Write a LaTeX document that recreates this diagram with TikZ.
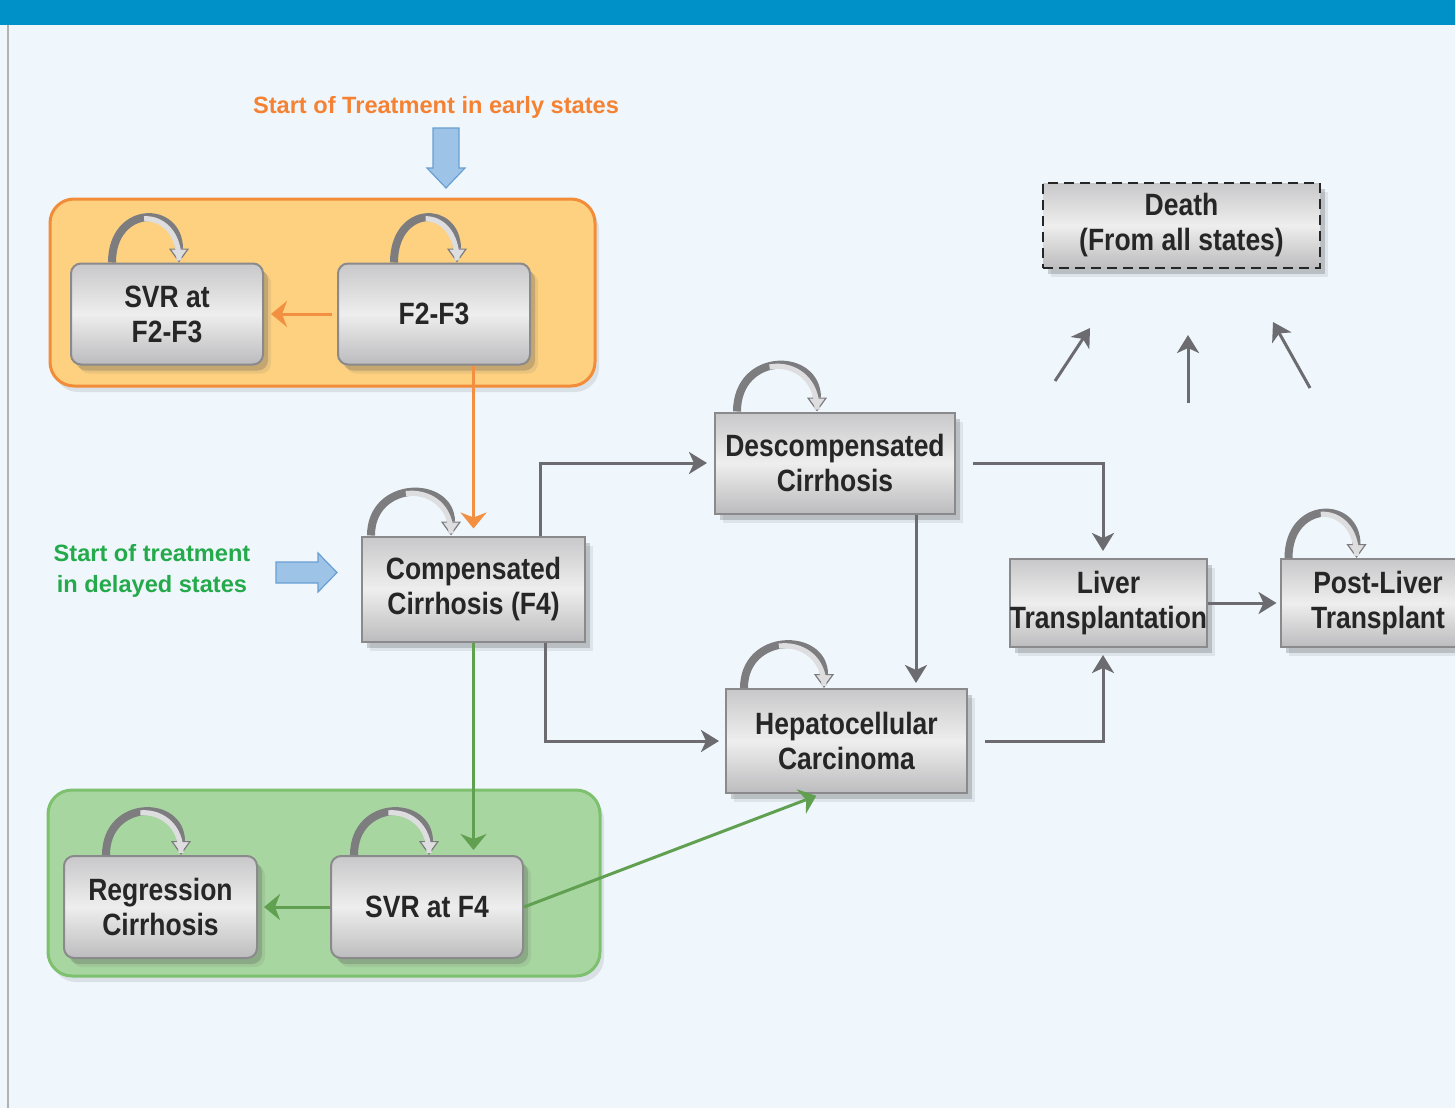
\documentclass[tikz,border=0pt]{standalone}
\usepackage{fontspec}
\newfontfamily\boxfont[FakeStretch=0.86]{Liberation Sans}
\newfontfamily\notefont{Liberation Sans}
\usetikzlibrary{arrows.meta,calc,shadows}
\definecolor{bgblue}{RGB}{239,247,253}
\definecolor{bandblue}{RGB}{0,145,200}
\definecolor{boxtop}{RGB}{200,200,202}
\definecolor{boxmid}{RGB}{238,238,238}
\definecolor{boxbot}{RGB}{188,188,190}
\definecolor{boxedge}{RGB}{138,138,140}
\definecolor{linegray}{RGB}{108,108,112}
\definecolor{loopgray}{RGB}{125,125,128}
\definecolor{loopfill}{RGB}{222,222,224}
\definecolor{earlyfill}{RGB}{253,209,128}
\definecolor{earlyedge}{RGB}{242,140,56}
\definecolor{earlyline}{RGB}{243,143,65}
\definecolor{latefill}{RGB}{168,214,160}
\definecolor{lateedge}{RGB}{125,192,110}
\definecolor{lateline}{RGB}{96,160,80}
\definecolor{noteorange}{RGB}{245,130,50}
\definecolor{notegreen}{RGB}{37,170,75}
\definecolor{arrowblue}{RGB}{157,195,230}
\definecolor{arrowedge}{RGB}{106,159,211}
\tikzset{
  state/.style={draw=boxedge, line width=1pt, top color=boxtop, bottom color=boxbot,
    middle color=boxmid, align=center, inner sep=0pt, text=black!85,
    font=\boxfont\bfseries\fontsize{15.4}{17.5}\selectfont,
    drop shadow={shadow xshift=2.5pt, shadow yshift=-3pt, fill=black!70, opacity=0.25},
    drop shadow={shadow xshift=4pt, shadow yshift=-4.5pt, fill=black!60, opacity=0.12}},
  rstate/.style={state, rounded corners=5pt},
  group/.style={line width=1.5pt, rounded corners=12pt, inner sep=0pt,
    drop shadow={shadow xshift=2pt, shadow yshift=-3pt, fill=black!60, opacity=0.15}},
  note/.style={font=\notefont\bfseries\fontsize{11.8}{15.5}\selectfont, align=center, inner sep=0pt},
  stay/.style={draw=loopgray, line width=4pt,
    -{Triangle[length=7pt, width=10pt, fill=loopfill, line width=0.6pt]},
    postaction={draw=loopfill, line width=2.6pt, -, shorten >=1pt,
      dash pattern=on 0pt off 30pt on 200pt off 0pt}},
  flow/.style={draw=linegray, line width=1.5pt, -{Stealth[length=9pt, width=11pt, inset=2.5pt]}},
  early/.style={draw=earlyline, line width=1.5pt, -{Stealth[length=8pt, width=13pt, inset=2.5pt]}},
  late/.style={draw=lateline, line width=1.5pt, -{Stealth[length=8pt, width=13pt, inset=2.5pt]}},
  blockarrow/.style={fill=arrowblue, draw=arrowedge, line width=0.6pt}
}

\begin{document}
\begin{tikzpicture}[x=0.5pt, y=-0.5pt]
  \useasboundingbox (0,0) rectangle (1455,1108);
  \fill[bgblue] (0,0) rectangle (1455,1108);
  \fill[bandblue] (0,0) rectangle (1455,25);
  \draw[gray!60, line width=0.6pt] (8,25) -- (8,1108);

  \node[group, fill=earlyfill, draw=earlyedge, minimum width=272.5pt, minimum height=93.5pt] (earlygrp) at (322.5,292.5) {};
  \node[group, fill=latefill, draw=lateedge, minimum width=276pt, minimum height=93pt] (lategrp) at (324,883) {};

  \node[note, text=noteorange] (earlytxt) at (436,107) {Start of Treatment in early states};
  \node[note, text=notegreen] (latetxt) at (152,571) {Start of treatment\\in delayed states};
  \draw[blockarrow] (433,128) -- (459,128) -- (459,168) -- (465,168) -- (446,188) -- (427,168) -- (433,168) -- cycle;
  \draw[blockarrow] (276,562) -- (318,562) -- (318,553) -- (337,572.5) -- (318,592) -- (318,583) -- (276,583) -- cycle;

  \node[rstate, minimum width=96pt, minimum height=50.5pt] (svr23) at (167,314) {SVR at\\F2-F3};
  \node[rstate, minimum width=96pt, minimum height=50.5pt] (f23) at (434,314) {F2-F3};
  \node[state, minimum width=111.5pt, minimum height=52.5pt] (comp) at (473.5,589) {Compensated\\Cirrhosis (F4)};
  \node[state, minimum width=120pt, minimum height=50.5pt] (desc) at (835,463) {Descompensated\\Cirrhosis};
  \node[state, minimum width=120.5pt, minimum height=52pt] (hcc) at (846.5,741) {Hepatocellular\\Carcinoma};
  \node[state, minimum width=97.5pt, minimum height=44pt] (liver) at (1108.5,603) {Liver\\Transplantation};
  \node[state, minimum width=97.5pt, minimum height=44pt] (post) at (1378,603) {Post-Liver\\Transplant};
  \node[state, dash pattern=on 5pt off 3pt, draw=black!85, line width=1.3pt, minimum width=138.5pt, minimum height=42.5pt] (death) at (1181.5,225.5) {Death\\(From all states)};
  \node[rstate, minimum width=96.5pt, minimum height=51pt] (regr) at (160.5,907) {Regression\\Cirrhosis};
  \node[rstate, minimum width=96pt, minimum height=51pt] (svr4) at (427,907) {SVR at F4};

  \draw[stay] ($(svr23.north west)+(42,0)$) .. controls +(0,-58) and +(0,-58) .. ($(svr23.north west)+(109,0)$);
  \draw[stay] ($(f23.north west)+(57,0)$) .. controls +(0,-58) and +(0,-58) .. ($(f23.north west)+(120,0)$);
  \draw[stay] ($(comp.north west)+(10,0)$) .. controls +(0,-56) and +(0,-56) .. ($(comp.north west)+(90,0)$);
  \draw[stay] ($(desc.north west)+(23,0)$) .. controls +(0,-60) and +(0,-60) .. ($(desc.north west)+(103,0)$);
  \draw[stay] ($(hcc.north west)+(19,0)$) .. controls +(0,-56) and +(0,-56) .. ($(hcc.north west)+(99,0)$);
  \draw[stay] ($(post.north west)+(9,0)$) .. controls +(0,-58) and +(0,-58) .. ($(post.north west)+(77,0)$);
  \draw[stay] ($(regr.north west)+(43,0)$) .. controls +(0,-56) and +(0,-56) .. ($(regr.north west)+(118,0)$);
  \draw[stay] ($(svr4.north west)+(24,0)$) .. controls +(0,-56) and +(0,-56) .. ($(svr4.north west)+(99,0)$);

  \draw[early, shorten <=2.5pt, shorten >=3.5pt] (f23.west) -- (svr23.east);
  \draw[early, shorten >=3.5pt] (comp.north |- f23.south) -- (comp.north);
  \draw[flow, shorten >=3.5pt] ($(comp.north)+(66.5,0)$) |- (desc.west);
  \draw[flow, shorten >=3pt] ($(comp.south)+(71.5,0)$) |- (hcc.west);
  \draw[flow, shorten >=2.5pt] ($(desc.south)+(81,0)$) -- ($(hcc.north)+(69.5,0)$);
  \draw[flow, shorten >=3.5pt] ($(desc.east)+(17,0)$) -| ($(liver.north)+(-5.5,0)$);
  \draw[flow, shorten >=3.5pt] ($(hcc.east)+(17,0)$) -| ($(liver.south)+(-5.5,0)$);
  \draw[flow, shorten >=1.5pt] (liver.east) -- (post.west);
  \draw[late, shorten >=2.5pt] (comp.south) -- (comp.south |- svr4.north);
  \draw[late, shorten >=3pt] (svr4.west) -- (regr.east);
  \draw[late, shorten >=2.5pt] (svr4.east) -- ($(hcc.south west)+(96,0)$);

  \coordinate (dfromA) at (1055,381);
  \coordinate (dtoA) at (1090,328);
  \coordinate (dfromB) at (1188,403);
  \coordinate (dtoB) at (1188,335);
  \coordinate (dfromC) at (1310,388);
  \coordinate (dtoC) at (1273,322);
  \draw[flow] (dfromA) -- (dtoA);
  \draw[flow] (dfromB) -- (dtoB);
  \draw[flow] (dfromC) -- (dtoC);
\end{tikzpicture}
\end{document}
